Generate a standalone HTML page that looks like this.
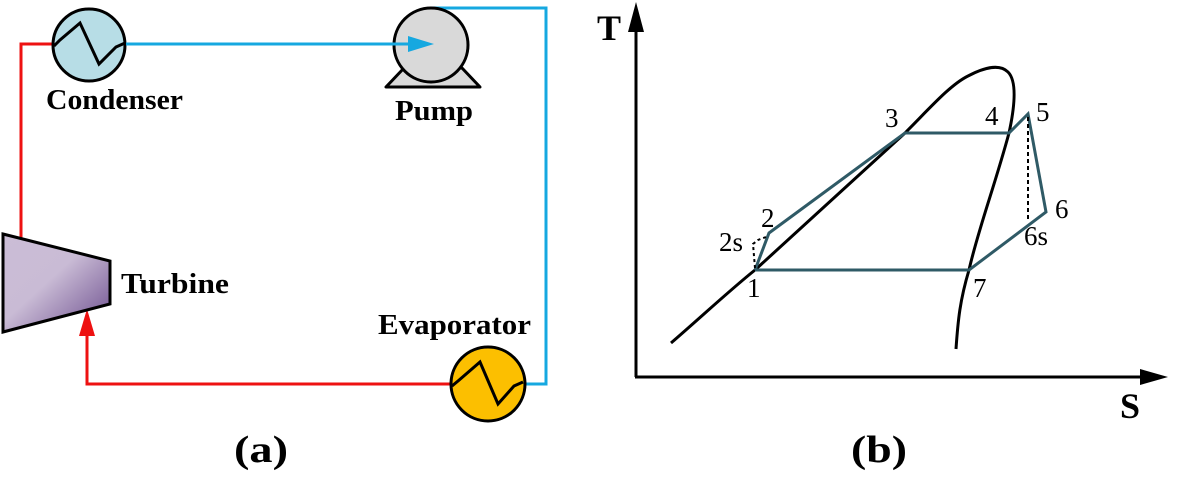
<!DOCTYPE html>
<html><head><meta charset="utf-8"><style>html,body{margin:0;padding:0;background:#fff}svg{display:block}
.b{font-family:"Liberation Serif","Times New Roman",serif;font-weight:bold}
.r{font-family:"Liberation Serif","Times New Roman",serif}</style></head>
<body>
<svg width="1183" height="478" viewBox="0 0 1183 478" xmlns="http://www.w3.org/2000/svg">
<defs>
<linearGradient id="tg" x1="0" y1="0" x2="1" y2="1">
<stop offset="0" stop-color="#cbbdd6"/><stop offset="0.45" stop-color="#c9bbd5"/><stop offset="1" stop-color="#6a4b8c"/>
</linearGradient>
</defs>
<!-- pipes -->
<polyline points="53,44 21,44 21,240" fill="none" stroke="#ee1111" stroke-width="3"/>
<polyline points="452,384 87,384 87,330" fill="none" stroke="#ee1111" stroke-width="3"/>
<polygon points="87,309 79,336 95,336" fill="#ee1111"/>
<polyline points="430,8 546,8 546,384 524,384" fill="none" stroke="#16a8e0" stroke-width="3"/>
<!-- condenser -->
<circle cx="89" cy="45" r="36" fill="#b7dde6" stroke="#000" stroke-width="3"/>
<polyline points="54,46 60,40 80,23 99,64 116,47 125,43" fill="none" stroke="#000" stroke-width="3"/>
<!-- pump -->
<polygon points="386,87 480,87 462,68 404,68" fill="#d9d9d9" stroke="#000" stroke-width="3" stroke-linejoin="round"/>
<circle cx="431" cy="45" r="37" fill="#d9d9d9" stroke="#000" stroke-width="3"/>
<line x1="126" y1="44" x2="412" y2="44" stroke="#16a8e0" stroke-width="3"/>
<polygon points="434,44 408,36 408,52" fill="#16a8e0"/>
<!-- turbine -->
<polygon points="3,234 110,261 110,304 3,332" fill="url(#tg)" stroke="#000" stroke-width="3"/>
<!-- evaporator -->
<circle cx="488" cy="384" r="37" fill="#fcbf00" stroke="#000" stroke-width="3"/>
<polyline points="452,386 458,381 480,362 498,404 514,386 523,382" fill="none" stroke="#000" stroke-width="3"/>
<g class="b" fill="#000">
<text x="46" y="109" font-size="29" textLength="137" lengthAdjust="spacingAndGlyphs">Condenser</text>
<text x="395" y="120" font-size="29" textLength="78" lengthAdjust="spacingAndGlyphs">Pump</text>
<text x="121" y="293" font-size="29" textLength="108" lengthAdjust="spacingAndGlyphs">Turbine</text>
<text x="378" y="334" font-size="29" textLength="153" lengthAdjust="spacingAndGlyphs">Evaporator</text>
<text x="234" y="462" font-size="38" textLength="54" lengthAdjust="spacingAndGlyphs">(a)</text>
<text x="851" y="462" font-size="38" textLength="56" lengthAdjust="spacingAndGlyphs">(b)</text>
<text x="597" y="40" font-size="36">T</text>
<text x="1120" y="418" font-size="36">S</text>
</g>
<!-- axes -->
<line x1="636" y1="377" x2="636" y2="28" stroke="#000" stroke-width="3"/>
<polygon points="636,2 628,32 644,32" fill="#000"/>
<line x1="635" y1="377" x2="1145" y2="377" stroke="#000" stroke-width="3"/>
<polygon points="1168,377 1140,369 1140,385" fill="#000"/>
<!-- dome -->
<path d="M671,343 C700,318 730,290 755,270 L905,133 C930,108 950,85 968,76 C985,67 1000,64 1008,72 C1018,82 1014,110 1009,133 C995,185 978,230 969,270 C960,300 958,320 956,349" fill="none" stroke="#000" stroke-width="3"/>
<!-- cycle -->
<polyline points="755,270 769,233 905,133 1009,133 1028,114 1046,212 969,270 755,270" fill="none" stroke="#2f5a66" stroke-width="3"/>
<polyline points="755,268 753,244 758,240 766,237" fill="none" stroke="#000" stroke-width="2" stroke-dasharray="3,3"/>
<line x1="1028" y1="117" x2="1028" y2="222" stroke="#000" stroke-width="2" stroke-dasharray="4,3"/>
<g class="r" font-size="27" fill="#000">
<text x="885" y="127">3</text>
<text x="985" y="125">4</text>
<text x="1036" y="121">5</text>
<text x="1055" y="218">6</text>
<text x="1024" y="245">6s</text>
<text x="761" y="227">2</text>
<text x="719" y="251">2s</text>
<text x="747" y="297">1</text>
<text x="973" y="297">7</text>
</g>
</svg>
</body></html>
